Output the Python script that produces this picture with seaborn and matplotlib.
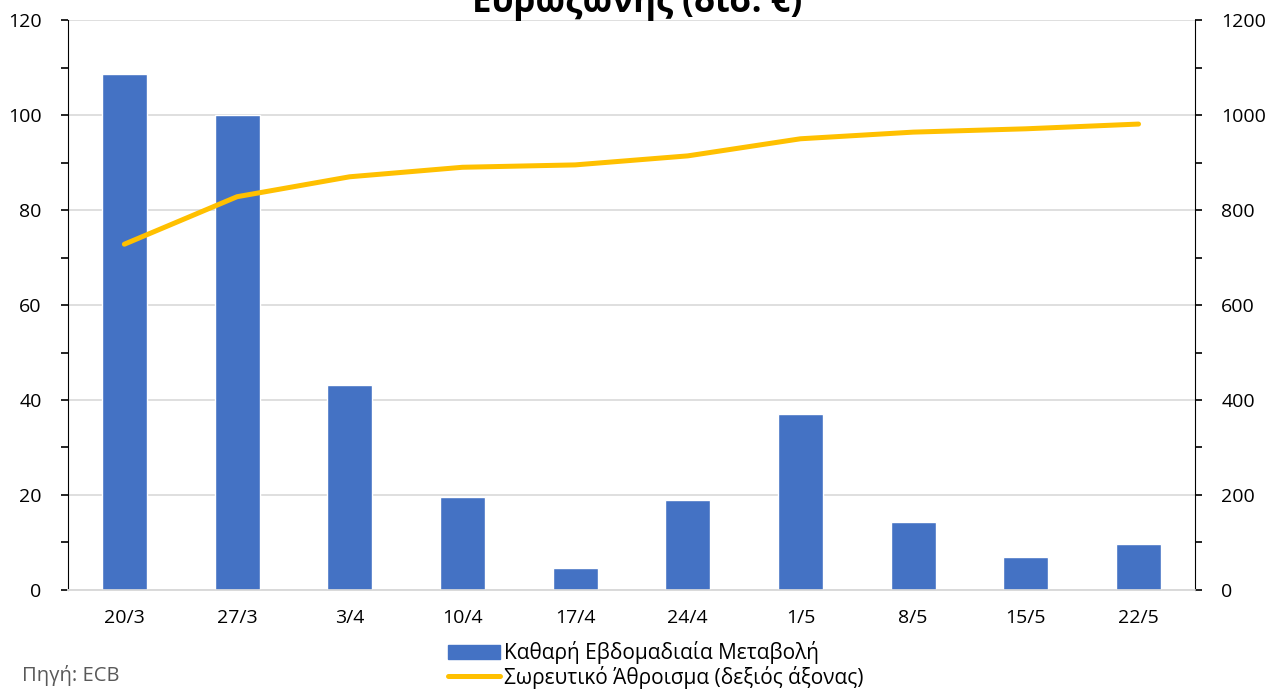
import seaborn as sns
import matplotlib.pyplot as plt
from matplotlib.patches import Patch
from matplotlib.lines import Line2D
from matplotlib.ticker import MultipleLocator

weeks = ['20/3', '27/3', '3/4', '10/4', '17/4', '24/4', '1/5', '8/5', '15/5', '22/5']
weekly_change = [108.6, 100.0, 43.2, 19.5, 4.7, 18.9, 37.0, 14.4, 6.9, 9.6]
cumulative = [728, 828, 870, 890, 895, 914, 950, 964, 971, 981]

bar_color = '#4472C4'
line_color = '#FFC000'

sns.set_style('white')
plt.rcParams['font.family'] = ['Open Sans', 'DejaVu Sans']
plt.rcParams['text.color'] = 'black'
plt.rcParams['xtick.color'] = 'black'
plt.rcParams['ytick.color'] = 'black'

fig = plt.figure(figsize=(12.69, 6.91), dpi=100)
ax = fig.add_axes([0.0536, 0.1462, 0.888, 0.8248])

sns.barplot(x=weeks, y=weekly_change, color=bar_color, width=0.4, ax=ax,
            saturation=1, zorder=3)
ax.set_ylim(0, 120)
ax.set_xlim(-0.5, len(weeks) - 0.5)
ax.yaxis.set_major_locator(MultipleLocator(20))
ax.yaxis.set_minor_locator(MultipleLocator(10))
ax.grid(axis='y', color='#d9d9d9', linewidth=1.2, zorder=0)
ax.set_axisbelow(True)

ax2 = ax.twinx()
sns.lineplot(x=list(range(len(weeks))), y=cumulative, color=line_color,
             linewidth=3.6, ax=ax2, solid_capstyle='round')
ax2.set_ylim(0, 1200)
ax2.yaxis.set_major_locator(MultipleLocator(200))
ax2.yaxis.set_minor_locator(MultipleLocator(100))
ax2.set_xlim(-0.5, len(weeks) - 0.5)

for a in (ax, ax2):
    a.spines['top'].set_visible(False)
    a.spines['bottom'].set_color('#d9d9d9')
    a.spines['bottom'].set_linewidth(1.2)
    a.spines['left'].set_color('black')
    a.spines['right'].set_color('black')
    a.set_xlabel('')
    a.set_ylabel('')

ax.spines['right'].set_visible(False)
ax2.spines['left'].set_visible(False)

ax.tick_params(axis='y', which='both', left=True, direction='out', length=5,
               width=1.2, color='black', labelcolor='black', labelsize=14, pad=14)
ax.tick_params(axis='x', bottom=False, labelcolor='black', labelsize=14, pad=10)
ax2.tick_params(axis='y', which='both', right=True, direction='out', length=5,
                width=1.2, color='black', labelcolor='black', labelsize=14, pad=14)

# title is partly cut off at the top edge, as in the original
fig.text(0.502, 0.982, 'Ευρωζώνης (δισ. €)', ha='center', va='baseline',
         fontsize=25, fontweight='bold', color='black')

handles = [Patch(facecolor=bar_color, edgecolor=bar_color),
           Line2D([0], [0], color=line_color, linewidth=3.6)]
labels = ['Καθαρή Εβδομαδιαία Μεταβολή', 'Σωρευτικό Άθροισμα (δεξιός άξονας)']
fig.legend(handles, labels, loc='center', bbox_to_anchor=(0.5166, 0.0376),
           frameon=False, fontsize=15, handlelength=2.5, handletextpad=0.2,
           labelspacing=0.06, borderpad=0, labelcolor='black')

fig.text(0.0173, 0.023, 'Πηγή: ECB', ha='left', va='center', fontsize=14.5,
         color='#595959')

fig.savefig('out.png', dpi=100)
